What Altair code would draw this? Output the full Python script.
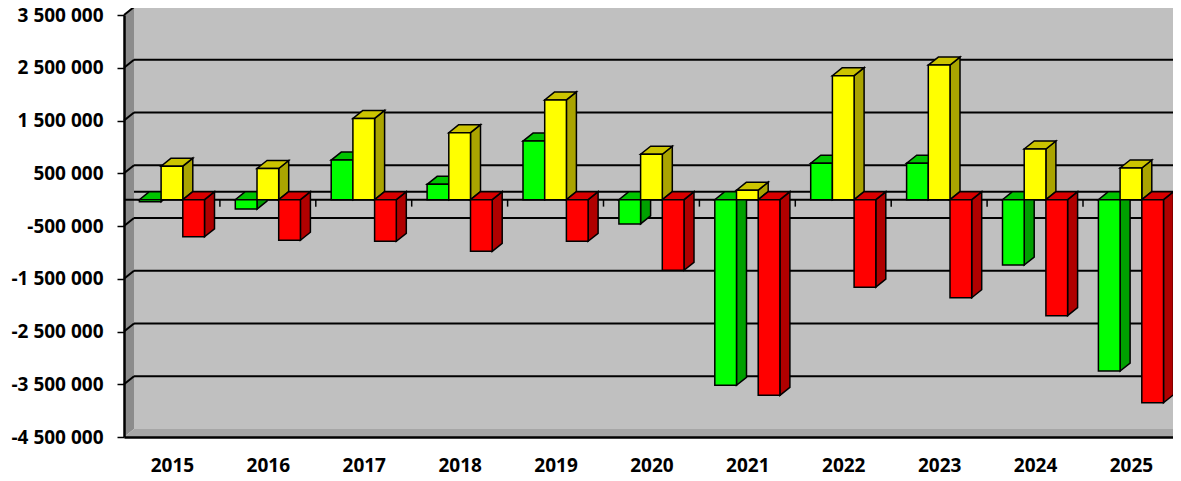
import json
import altair as alt
import pandas as pd

# ---------------- data ----------------
years = [2015, 2016, 2017, 2018, 2019, 2020, 2021, 2022, 2023, 2024, 2025]
series_green = [-40000, -180000, 750000, 290000, 1110000, -460000, -3520000, 690000, 690000, -1240000, -3250000]
series_yellow = [635000, 590000, 1540000, 1270000, 1890000, 860000, 180000, 2350000, 2550000, 960000, 600000]
series_red = [-705000, -770000, -790000, -980000, -790000, -1340000, -3710000, -1660000, -1860000, -2200000, -3850000]
y_tick_values = [3500000, 2500000, 1500000, 500000, -500000, -1500000, -2500000, -3500000, -4500000]

# (values, front colour, top colour, side colour)
series = [
    (series_green, "#00FF00", "#00C400", "#00A000"),
    (series_yellow, "#FFFF00", "#CCC400", "#AAA400"),
    (series_red, "#FF0000", "#D80000", "#B00000"),
]

# ---------------- layout ----------------
FONT = "Open Sans"
N = len(years)
W = 1049                          # plot width kept inside the page
H = 422
SLOT_PX = 95.9                    # pixel width of one year slot
X_MAX = W / SLOT_PX               # last slot runs slightly past the page edge
Y_MIN, Y_MAX = -4500000, 3500000
PX_Y = H / (Y_MAX - Y_MIN)        # pixels per value unit
DX = 10 / SLOT_PX                 # 3-D depth, x (slot units)
DY = 8 / PX_Y                     # 3-D depth, y (value units)
BAR_W = 21.7 / SLOT_PX
GROUP_OFF = (1 - 3 * BAR_W) / 2
TICK_LEN = 7 / PX_Y

xscale = alt.Scale(domain=[0, X_MAX], nice=False, zero=False)
yscale = alt.Scale(domain=[Y_MIN, Y_MAX], nice=False, zero=False)

years_js = json.dumps([str(y) for y in years])
xaxis = alt.Axis(
    values=[i + 0.5 for i in range(N)],
    labelExpr=f"{years_js}[floor(datum.value)]",
    ticks=False, tickSize=0, grid=False,
    domainColor="black", domainWidth=2.5,
    labelFont=FONT, labelFontSize=19, labelFontWeight="bold", labelColor="black",
    labelBaseline="alphabetic", labelPadding=34, labelFlush=False, labelOverlap=False,
    title=None, zindex=1,
)
yaxis = alt.Axis(
    values=y_tick_values,
    labelExpr="(datum.value < 0 ? '-' : '') + replace(format(abs(datum.value), ','), regexp(',', 'g'), ' ')",
    tickSize=7, tickColor="black", tickWidth=1.5, grid=False,
    domainColor="black", domainWidth=2.5,
    labelFont=FONT, labelFontSize=19, labelFontWeight="bold", labelColor="black",
    labelPadding=14, labelFlush=False, labelOverlap=False,
    title=None, zindex=1,
)


def X(f):
    return alt.X(f, type="quantitative", scale=xscale, axis=xaxis)


def Y(f):
    return alt.Y(f, type="quantitative", scale=yscale, axis=yaxis)


# ---------------- walls ----------------
back_wall = pd.DataFrame([{"x": DX, "x2": N + DX, "y": Y_MIN + DY, "y2": Y_MAX + DY}])
left_wall = pd.DataFrame([
    {"x": 0, "y": Y_MAX, "y2": Y_MIN},
    {"x": DX, "y": Y_MAX + DY, "y2": Y_MIN + DY},
])
floor = pd.DataFrame([
    {"y": Y_MIN, "x": 0, "x2": N},
    {"y": Y_MIN + DY, "x": DX, "x2": N + DX},
])

grid_rows = []
for v in y_tick_values:
    if v == Y_MIN:
        continue
    grid_rows.append({"x": 0, "x2": DX, "y": v, "y2": v + DY})
    grid_rows.append({"x": DX, "x2": N + DX, "y": v + DY, "y2": v + DY})
grid_rows.append({"x": DX, "x2": N + DX, "y": DY, "y2": DY})     # back zero line
grid_rows.append({"x": 0, "x2": N, "y": 0, "y2": 0})             # front zero line
grid = pd.DataFrame(grid_rows)

ticks = pd.DataFrame([{"x": k, "y": 0, "y2": -TICK_LEN} for k in range(1, N + 1)])

# ---------------- bars ----------------
fronts, sides, tops = [], [], []
fid = 0
for i in range(N):
    for s, (vals, cf, ct, cs) in enumerate(series):
        v = vals[i]
        xl = i + GROUP_OFF + s * BAR_W
        xr = xl + BAR_W
        hi, lo = max(v, 0), min(v, 0)
        fronts.append({"x": xl, "x2": xr, "y": 0, "y2": v, "c": cf})
        sides.append({"id": fid, "x": xr, "y": hi, "y2": lo, "c": cs})
        sides.append({"id": fid, "x": xr + DX, "y": hi + DY, "y2": lo + DY, "c": cs})
        tops.append({"id": fid, "y": hi, "x": xl, "x2": xr, "c": ct})
        tops.append({"id": fid, "y": hi + DY, "x": xl + DX, "x2": xr + DX, "c": ct})
        fid += 1

fronts = pd.DataFrame(fronts)
sides = pd.DataFrame(sides)
tops = pd.DataFrame(tops)

# ---------------- layers ----------------
l_back = alt.Chart(back_wall).mark_rect(fill="#C0C0C0").encode(
    x=X("x"), x2="x2", y=Y("y"), y2="y2")
l_left = alt.Chart(left_wall).mark_area(fill="#8C8C8C").encode(
    x=X("x"), y=Y("y"), y2="y2")
l_floor = alt.Chart(floor).mark_area(fill="#A6A6A6", orient="horizontal").encode(
    y=Y("y"), x=X("x"), x2="x2")
l_grid = alt.Chart(grid).mark_rule(color="black", strokeWidth=2).encode(
    x=X("x"), x2="x2", y=Y("y"), y2="y2")
l_ticks = alt.Chart(ticks).mark_rule(color="black", strokeWidth=1.5).encode(
    x=X("x"), y=Y("y"), y2="y2")
l_sides = alt.Chart(sides).mark_area(stroke="black", strokeWidth=1.5, strokeJoin="miter").encode(
    x=X("x"), y=Y("y"), y2="y2", detail="id:N",
    color=alt.Color("c:N", scale=None))
l_tops = alt.Chart(tops).mark_area(stroke="black", strokeWidth=1.5, strokeJoin="miter",
                                   orient="horizontal").encode(
    y=Y("y"), x=X("x"), x2="x2", detail="id:N",
    color=alt.Color("c:N", scale=None))
l_fronts = alt.Chart(fronts).mark_rect(stroke="black", strokeWidth=1.5).encode(
    x=X("x"), x2="x2", y=Y("y"), y2="y2",
    color=alt.Color("c:N", scale=None))

chart = alt.layer(
    l_back, l_left, l_floor, l_grid, l_ticks, l_sides, l_tops, l_fronts
).properties(
    width=W, height=H,
    autosize=alt.AutoSizeParams(type="none"),
    padding={"left": 116, "top": 7, "right": 0, "bottom": 36},
    background="white",
).configure_view(strokeWidth=0)

chart.save("out.html", embed_options={"renderer": "svg", "actions": False})
